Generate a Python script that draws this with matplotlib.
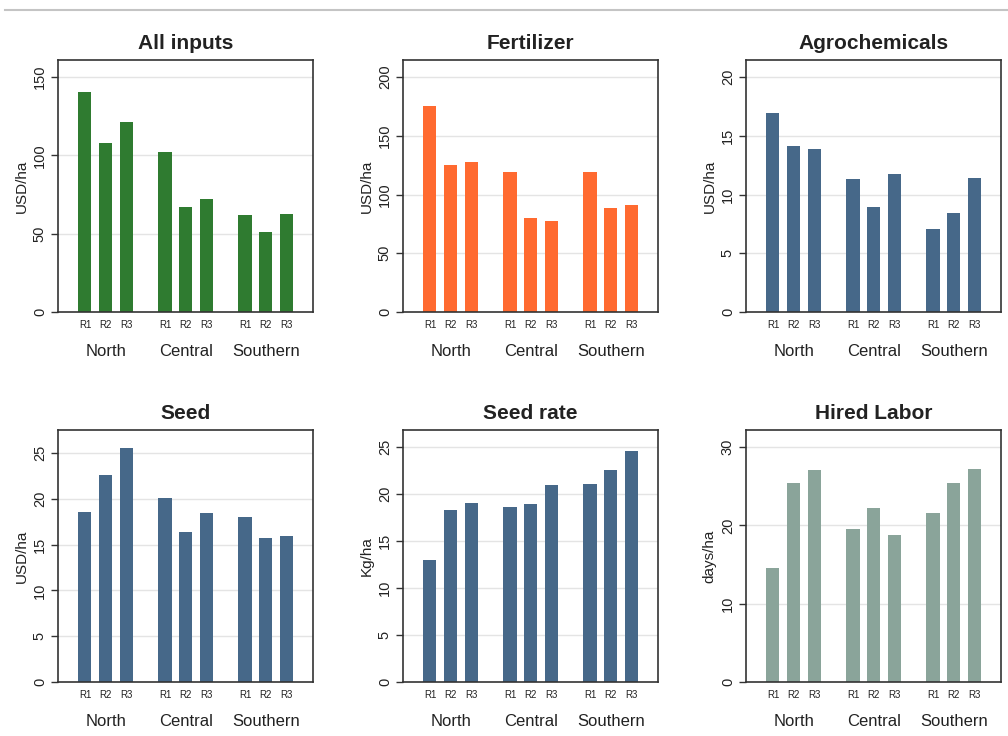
import numpy as np

import matplotlib
matplotlib.use('Agg')
import matplotlib.pyplot as plt
from matplotlib.lines import Line2D

"""
Input costs by region and round
"""

regions = ['North', 'Central', 'Southern']
rounds = ['R1', 'R2', 'R3']

all_inputs = [140.6, 108.2, 121.4, 102.4, 67.2, 71.9, 61.9, 51.2, 62.9]
fertilizer = [175.0, 125.2, 127.5, 119.2, 79.9, 77.4, 119.5, 88.5, 90.8]
agrochemicals = [16.96, 14.17, 13.91, 11.35, 8.93, 11.72, 7.06, 8.42, 11.44]
seed = [18.5, 22.64, 25.51, 20.1, 16.33, 18.43, 18.03, 15.75, 15.93]
seed_rate = [13.05, 18.37, 19.04, 18.62, 18.97, 20.96, 21.1, 22.59, 24.61]
hired_labor = [14.55, 25.49, 27.06, 19.49, 22.17, 18.81, 21.57, 25.4, 27.19]

panels = [
    ('All inputs', 'USD/ha', all_inputs, '#2f7b30', [0, 50, 100, 150], 161),
    ('Fertilizer', 'USD/ha', fertilizer, '#ff6a30', [0, 50, 100, 150, 200], 214.5),
    ('Agrochemicals', 'USD/ha', agrochemicals, '#466889', [0, 5, 10, 15, 20], 21.45),
    ('Seed', 'USD/ha', seed, '#466889', [0, 5, 10, 15, 20, 25], 27.5),
    ('Seed rate', 'Kg/ha', seed_rate, '#466889', [0, 5, 10, 15, 20, 25], 26.85),
    ('Hired Labor', 'days/ha', hired_labor, '#8aa49a', [0, 10, 20, 30], 32.2),
]

plt.rcParams['font.family'] = ['Liberation Sans', 'DejaVu Sans']

fig = plt.figure(figsize=(10.08, 7.36), dpi=100)
fig.add_artist(Line2D([0.005, 1.0], [1 - 9.5 / 736, 1 - 9.5 / 736],
                      color='#c4c4c4', lw=1.5, transform=fig.transFigure))

lefts = [58, 403, 746]
tops = [60, 430]
w_px, h_px = 255, 252

group_gap = 3.86
xs = np.array([g * group_gap + i for g in range(3) for i in range(3)])

for k, (title, ylab, vals, col, ticks, ytop) in enumerate(panels):
    r, c = divmod(k, 3)
    left = lefts[c] / 1008
    bottom = 1 - (tops[r] + h_px) / 736
    ax = fig.add_axes([left, bottom, w_px / 1008, h_px / 736])
    ax.bar(xs, vals, width=0.63, color=col, edgecolor='none', zorder=3)
    ax.set_xlim(-1.3, 11.0)
    ax.set_ylim(0, ytop)
    ax.set_yticks(ticks)
    ax.set_yticklabels([str(t) for t in ticks], rotation=90, va='center',
                       fontsize=10.5, color='#222222')
    for t in ticks[1:]:
        ax.axhline(t, color='#e4e4e4', lw=1.0, zorder=1)
    ax.set_xticks(xs)
    ax.set_xticklabels(rounds * 3, fontsize=7, color='#222222')
    ax.tick_params(axis='x', length=0, pad=6)
    ax.tick_params(axis='y', length=5, width=1, color='#333333', pad=3)
    for g, name in enumerate(regions):
        ax.text(g * group_gap + 1, -0.155, name, transform=ax.get_xaxis_transform(),
                ha='center', va='center', fontsize=12, color='#222222')
    for sp in ax.spines.values():
        sp.set_color('#333333')
        sp.set_linewidth(1.2)
        sp.set_zorder(5)
    ax.set_ylabel(ylab, fontsize=11, color='#222222', labelpad=3)
    ax.set_title(title, fontsize=15, fontweight='bold', color='#222222', pad=8)

fig.savefig('out.png', dpi=100)
plt.close(fig)
